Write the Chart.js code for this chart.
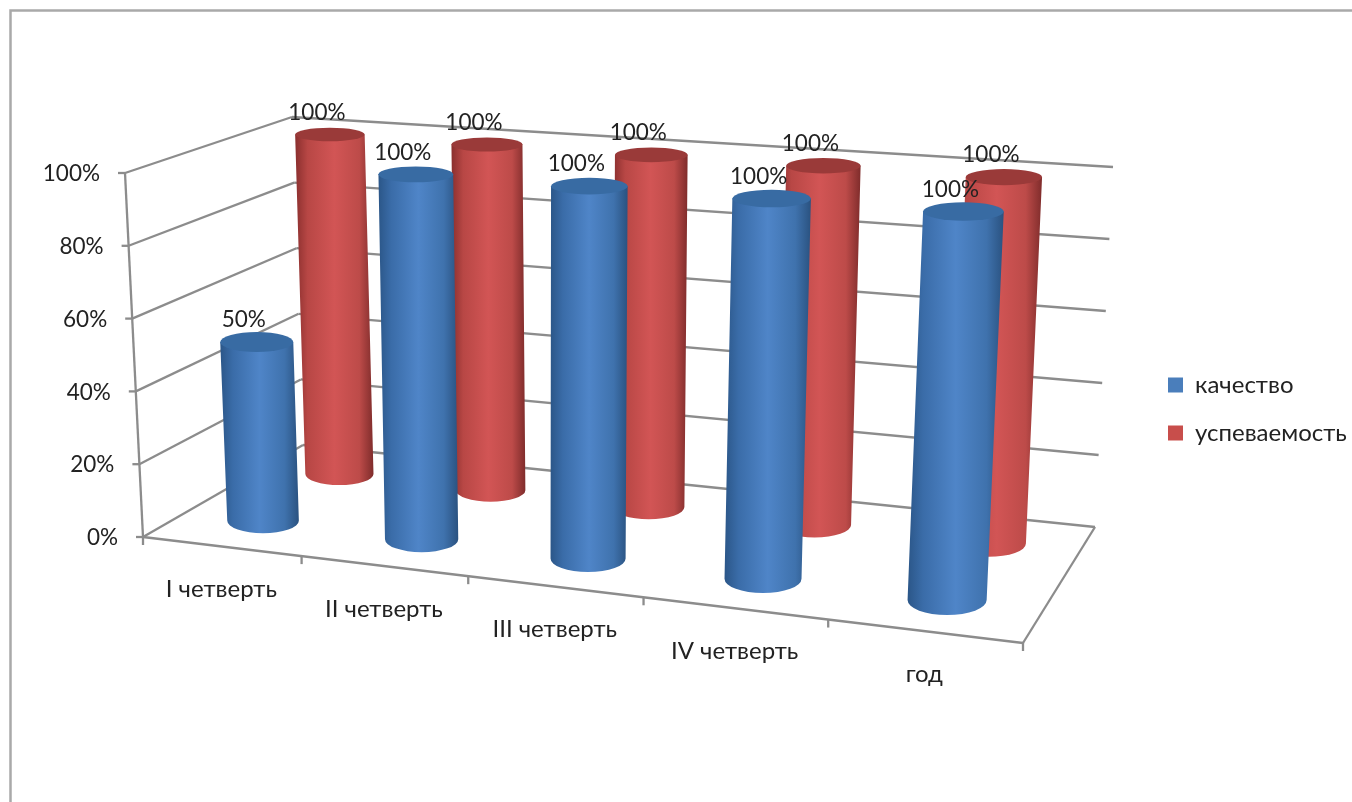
<!DOCTYPE html>
<html>
<head>
<meta charset="UTF-8">
<script src="https://cdn.jsdelivr.net/npm/chart.js"></script>
<style>
  html, body { margin: 0; padding: 0; background: #fff; }
  #wrap { position: relative; width: 1352px; height: 802px; }
</style>
</head>
<body>
<div id="wrap"><canvas id="chart"></canvas></div>
<script>
const categories = ['I четверть', 'II четверть', 'III четверть', 'IV четверть', 'год'];
const quality = [50, 100, 100, 100, 100];
const progress = [100, 100, 100, 100, 100];
const seriesNames = ['качество', 'успеваемость'];
const yTicks = [0, 20, 40, 60, 80, 100];

const FONT = "Lato, 'Open Sans', sans-serif";
const TEXT = '#222222';
const GRID = '#8c8c8c';

// corners of the 3D box on screen: front-left, front-right, back-right, back-left
const FLOOR = [[143, 537], [1023, 643], [1095, 527], [303, 445]];
const ROOF = [[125, 173], [1044, 238], [1113, 167], [292, 117]];
const ROW_DEPTH = [0.25, 0.75];
const CIRCLE_DEPTH = 0.125;

function quadMap(q) {
    const [p0, p1, p2, p3] = q;
    const sx = p0[0] - p1[0] + p2[0] - p3[0], sy = p0[1] - p1[1] + p2[1] - p3[1];
    const dx1 = p1[0] - p2[0], dx2 = p3[0] - p2[0], dy1 = p1[1] - p2[1], dy2 = p3[1] - p2[1];
    const den = dx1 * dy2 - dx2 * dy1;
    const g = (sx * dy2 - dx2 * sy) / den, h = (dx1 * sy - sx * dy1) / den;
    const a = p1[0] - p0[0] + g * p1[0], b = p3[0] - p0[0] + h * p3[0];
    const d = p1[1] - p0[1] + g * p1[1], e = p3[1] - p0[1] + h * p3[1];
    return (u, v) => {
        const w = g * u + h * v + 1;
        return [(a * u + b * v + p0[0]) / w, (d * u + e * v + p0[1]) / w];
    };
}
const floorMap = quadMap(FLOOR), roofMap = quadMap(ROOF);

function project(u, v, h) {
    const f = floorMap(u, v), r = roofMap(u, v);
    return [f[0] + (r[0] - f[0]) * h, f[1] + (r[1] - f[1]) * h];
}

function line(ctx, a, b) {
    ctx.beginPath();
    ctx.moveTo(a[0], a[1]);
    ctx.lineTo(b[0], b[1]);
    ctx.stroke();
}

const PALETTE = [
    { side: ['#2b5688', '#3a6ca8', '#4f85c8', '#3f72ad', '#2a5280'], cap: '#386ba3' },
    { side: ['#8a2f2e', '#b84745', '#d25555', '#bd4b49', '#7f2c2b'], cap: '#9a3a39' }
];

function drawCylinder(ctx, u, du, v, h, colors) {
    // radius on the floor, with the perspective growth damped by half
    const floorR = at => (floorMap(at + du, v)[0] - floorMap(at - du, v)[0]) / 2;
    const radius = (floorR(u) + floorR(0.5)) / 2;
    const ellipseAt = (level, rx) => {
        const c = project(u, v, level);
        const f = project(u, v - CIRCLE_DEPTH, level), b = project(u, v + CIRCLE_DEPTH, level);
        return { x: c[0], y: c[1], rx, ry: Math.abs(f[1] - b[1]) / 2 };
    };
    const top = ellipseAt(h, radius * 1.02), bot = ellipseAt(0, radius);
    const left = Math.min(top.x - top.rx, bot.x - bot.rx), right = Math.max(top.x + top.rx, bot.x + bot.rx);
    const grad = ctx.createLinearGradient(left, 0, right, 0);
    [0, 0.16, 0.5, 0.82, 1].forEach((s, i) => grad.addColorStop(s, colors.side[i]));

    ctx.beginPath();
    ctx.moveTo(top.x - top.rx, top.y);
    ctx.lineTo(bot.x - bot.rx, bot.y);
    ctx.ellipse(bot.x, bot.y, bot.rx, bot.ry, 0, Math.PI, 0, true);
    ctx.lineTo(top.x + top.rx, top.y);
    ctx.closePath();
    ctx.fillStyle = grad;
    ctx.fill();

    ctx.beginPath();
    ctx.ellipse(top.x, top.y, top.rx, top.ry, 0, 0, Math.PI * 2);
    ctx.fillStyle = colors.cap;
    ctx.fill();
    return top;
}

const box3d = {
    id: 'box3d',
    afterLayout(chart) {
        // legend sits lower than the centre of the plot
        const lg = chart.legend;
        lg.left = 1144;
        lg.right = 1352;
        lg.top = 349;
        lg.bottom = 802;
    },
    beforeDraw(chart) {
        const ctx = chart.ctx;
        ctx.save();
        ctx.strokeStyle = '#a9a9a9';
        ctx.lineWidth = 2.5;
        ctx.beginPath();
        ctx.moveTo(10.5, 802);
        ctx.lineTo(10.5, 10.5);
        ctx.lineTo(1352, 10.5);
        ctx.stroke();
        ctx.restore();
    },
    beforeDatasetsDraw(chart) {
        const ctx = chart.ctx, area = chart.chartArea;
        const xs = chart.scales.x, ys = chart.scales.y;
        const toH = py => (area.bottom - py) / (area.bottom - area.top);
        const toU = px => (px - area.left) / (area.right - area.left);

        ctx.save();
        ctx.strokeStyle = GRID;
        ctx.lineWidth = 2.3;
        ctx.fillStyle = TEXT;
        ctx.font = '22.5px ' + FONT;

        // walls and y axis
        line(ctx, project(0, 0, 0), project(0, 0, 1));
        ys.ticks.forEach(t => {
            const h = toH(ys.getPixelForValue(t.value));
            const front = project(0, 0, h);
            line(ctx, front, project(0, 1, h));
            line(ctx, project(0, 1, h), project(1, 1, h));
            line(ctx, [front[0] - 7, front[1]], front);
            ctx.textAlign = 'right';
            ctx.textBaseline = 'middle';
            ctx.fillText(t.label, front[0] - 25, front[1] + 1);
        });

        // floor edges, category ticks and labels
        line(ctx, project(0, 0, 0), project(1, 0, 0));
        line(ctx, project(1, 0, 0), project(1, 1, 0));
        const nCat = categories.length;
        for (let i = 0; i <= nCat; i++) {
            const p = project(i / nCat, 0, 0);
            line(ctx, p, [p[0], p[1] + 8]);
        }
        ctx.font = '24px ' + FONT;
        categories.forEach((c, i) => {
            const p = project(toU(xs.getPixelForValue(i)), 0, 0);
            ctx.textAlign = 'center';
            ctx.textBaseline = 'middle';
            ctx.fillText(xs.getLabelForValue(i), p[0], p[1] + 43);
        });

        // cylinders, back row first
        const labels = [];
        for (let ds = chart.data.datasets.length - 1; ds >= 0; ds--) {
            const meta = chart.getDatasetMeta(ds);
            meta.data.forEach((bar, i) => {
                const du = bar.width / 2 / (area.right - area.left);
                const top = drawCylinder(ctx, toU(bar.x), du, ROW_DEPTH[ds], toH(bar.y), PALETTE[ds]);
                labels.push({ x: top.x - 13, y: top.y - 22, text: chart.data.datasets[ds].data[i] + '%' });
            });
        }
        ctx.font = '22.5px ' + FONT;
        ctx.fillStyle = TEXT;
        ctx.textAlign = 'center';
        ctx.textBaseline = 'middle';
        labels.forEach(l => ctx.fillText(l.text, l.x, l.y));
        ctx.restore();
        return false;
    }
};

new Chart(document.getElementById('chart'), {
    type: 'bar',
    data: {
        labels: categories,
        datasets: [
            { label: seriesNames[0], data: quality, backgroundColor: '#4a7ebb', borderWidth: 0, grouped: false, barPercentage: 0.44, categoryPercentage: 1 },
            { label: seriesNames[1], data: progress, backgroundColor: '#c84e4b', borderWidth: 0, grouped: false, barPercentage: 0.44, categoryPercentage: 1 }
        ]
    },
    options: {
        animation: false,
        responsive: true,
        maintainAspectRatio: false,
        layout: { padding: { left: 10, top: 20, right: 10, bottom: 40 } },
        plugins: {
            tooltip: { enabled: false },
            legend: {
                position: 'right',
                align: 'start',
                labels: {
                    color: TEXT,
                    boxWidth: 15,
                    boxHeight: 15,
                    padding: 24,
                    font: { family: FONT, size: 24 }
                }
            }
        },
        scales: {
            x: { grid: { display: false }, border: { display: false }, ticks: { display: false } },
            y: {
                min: yTicks[0],
                max: yTicks[yTicks.length - 1],
                grid: { display: false },
                border: { display: false },
                ticks: { display: false, stepSize: yTicks[1] - yTicks[0], callback: v => v + '%' }
            }
        }
    },
    plugins: [box3d]
});
</script>
</body>
</html>
